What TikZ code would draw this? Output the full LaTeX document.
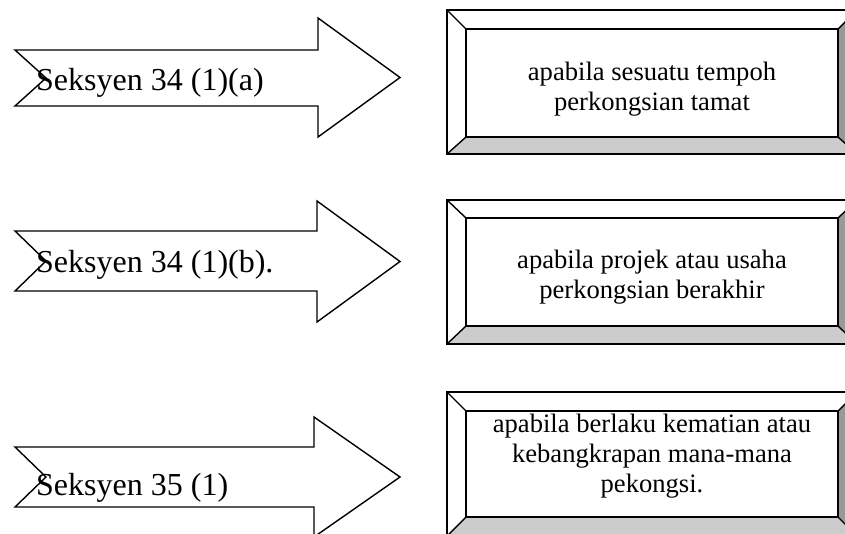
\documentclass[tikz,border=0pt]{standalone}
\usepackage{fontspec}
\setmainfont{Liberation Serif}
\definecolor{bevellight}{HTML}{CCCCCC}
\definecolor{beveldark}{HTML}{999999}
\tikzset{
  outl/.style={draw=black, line width=1.4pt, line join=miter},
  arrowtext/.style={anchor=base west, inner sep=0pt, font=\fontsize{32}{37}\selectfont},
  boxtext/.style={anchor=north, inner sep=0pt, align=center, font=\fontsize{26.6}{30.2}\selectfont},
}
% shaft top, shaft bottom, head top, head bottom, head base x
\newcommand\mybigarrow[5]{%
  \draw[outl, fill=white] (15,#1) -- (#5,#1) -- (#5,#3) -- (400,{(#3+#4)/2}) -- (#5,#4) -- (#5,#2) -- (15,#2) -- (46,{(#1+#2)/2}) -- cycle;}
% outer top, outer bottom, inner top, inner bottom
\newcommand\mybevelbox[4]{%
  \fill[white] (447,#1) rectangle (857,#2);
  \fill[bevellight] (447,#2) -- (466,#4) -- (838,#4) -- (857,#2) -- cycle;
  \fill[beveldark] (838,#3) -- (857,#1) -- (857,#2) -- (838,#4) -- cycle;
  \draw[outl] (447,#1) rectangle (857,#2);
  \draw[outl] (466,#3) rectangle (838,#4);
  \draw[outl] (447,#1) -- (466,#3);
  \draw[outl] (857,#1) -- (838,#3);
  \draw[outl] (447,#2) -- (466,#4);
  \draw[outl] (857,#2) -- (838,#4);}
\begin{document}
\begin{tikzpicture}[x=1pt, y=-1pt]
  \useasboundingbox (0,0) rectangle (845,533);
  \fill[white] (0,0) rectangle (845,533);
  \clip (0,0) rectangle (845,533);

  \mybigarrow{50}{106}{18}{137}{318}
  \mybigarrow{231}{291}{201}{322}{317}
  \mybigarrow{447}{507}{417}{537}{314}

  \node[arrowtext] (a1) at (36,90.5) {Seksyen 34 (1)(a)};
  \node[arrowtext] (a2) at (36,272.5) {Seksyen 34 (1)(b).};
  \node[arrowtext] (a3) at (36,495) {Seksyen 35 (1)};

  \mybevelbox{10}{154}{29}{137}
  \mybevelbox{200}{344}{218}{326}
  \mybevelbox{392}{536}{411}{517}

  \node[boxtext] (b1) at (652,61.5) {apabila sesuatu tempoh\\perkongsian tamat};
  \node[boxtext] (b2) at (652,249.5) {apabila projek atau usaha\\perkongsian berakhir};
  \node[boxtext] (b3) at (652,413.5) {apabila berlaku kematian atau\\kebangkrapan mana-mana\\pekongsi.};
\end{tikzpicture}
\end{document}
